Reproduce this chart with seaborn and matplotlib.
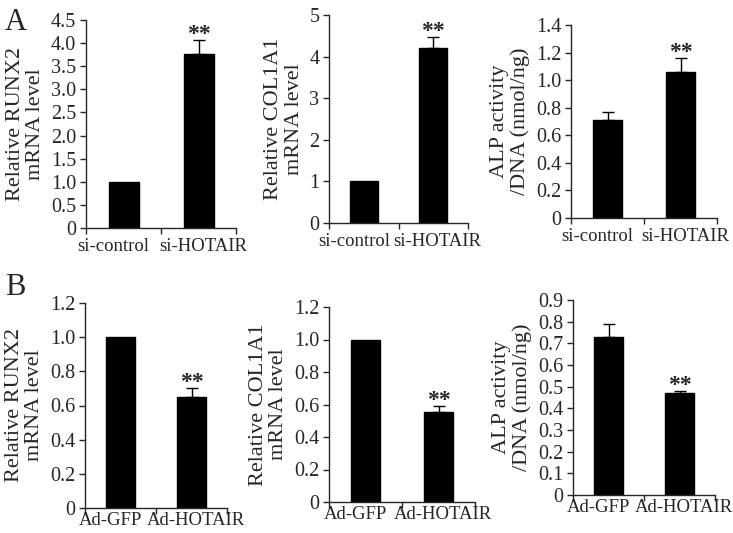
import numpy as np
import pandas as pd
import matplotlib
matplotlib.use("Agg")
import matplotlib.pyplot as plt
import seaborn as sns

# ---- data ----
groups_a = ["si-control", "si-HOTAIR"]
groups_b = ["Ad-GFP", "Ad-HOTAIR"]

runx2_a = [1.0, 3.76]
runx2_a_err = [0.0, 0.30]
col1a1_a = [1.0, 4.21]
col1a1_a_err = [0.0, 0.27]
alp_a = [0.71, 1.06]
alp_a_err = [0.06, 0.10]

runx2_b = [1.0, 0.65]
runx2_b_err = [0.0, 0.055]
col1a1_b = [1.0, 0.555]
col1a1_b_err = [0.0, 0.035]
alp_b = [0.73, 0.47]
alp_b_err = [0.06, 0.012]

ylabels = ["Relative RUNX2\nmRNA level", "Relative COL1A1\nmRNA level", "ALP activity\n/DNA (nmol/ng)"]

ylims_a = [(0, 4.5, 0.5, "{:.1f}"), (0, 5, 1, "{:.0f}"), (0, 1.4, 0.2, "{:.1f}")]
ylims_b = [(0, 1.2, 0.2, "{:.1f}"), (0, 1.2, 0.2, "{:.1f}"), (0, 0.9, 0.1, "{:.1f}")]

sns.set_style("ticks")
plt.rcParams["font.family"] = ["Liberation Serif", "DejaVu Serif"]
plt.rcParams["axes.linewidth"] = 1.0

fig = plt.figure(figsize=(7.33, 5.33), dpi=100)

W, H = 733, 533
def box(l, r, t, b):
    return [l / W, 1 - b / H, (r - l) / W, (b - t) / H]

positions = [
    box(86, 236, 20, 228), box(329, 468, 15, 223), box(571, 717, 25, 218),
    box(85, 227, 303, 508), box(329, 475, 307, 502), box(573, 715, 300, 495),
]

panels = [
    (groups_a, runx2_a, runx2_a_err, ylims_a[0], ylabels[0], [False, True]),
    (groups_a, col1a1_a, col1a1_a_err, ylims_a[1], ylabels[1], [False, True]),
    (groups_a, alp_a, alp_a_err, ylims_a[2], ylabels[2], [False, True]),
    (groups_b, runx2_b, runx2_b_err, ylims_b[0], ylabels[0], [False, True]),
    (groups_b, col1a1_b, col1a1_b_err, ylims_b[1], ylabels[1], [False, True]),
    (groups_b, alp_b, alp_b_err, ylims_b[2], ylabels[2], [False, True]),
]

for k, (pos, (groups, vals, errs, (ymin, ymax, step, fmt), ylab, stars)) in enumerate(zip(positions, panels)):
    ax = fig.add_axes(pos)
    df = pd.DataFrame({"group": groups, "value": vals})
    sns.barplot(data=df, x="group", y="value", color="black", width=0.4,
                errorbar=None, ax=ax, saturation=1, edgecolor="black")
    idx = [i for i, e in enumerate(errs) if e > 0]
    if idx:
        ax.errorbar([i for i in idx], [vals[i] for i in idx],
                    yerr=[[0 for _ in idx], [errs[i] for i in idx]],
                    fmt="none", ecolor="black", elinewidth=1.0, capsize=4, capthick=1.0)
    for i, s in enumerate(stars):
        if s:
            ax.annotate("**", (i, vals[i] + errs[i]), xytext=(0, 0), textcoords="offset points",
                        ha="center", va="baseline", fontsize=17, fontweight="bold")
    ax.set_xlim(-0.5, 1.5)
    ax.set_ylim(ymin, ymax)
    ticks = np.round(np.arange(ymin, ymax + step / 2, step), 3)
    ax.set_yticks(ticks)
    ax.set_yticklabels(["0" if t == 0 else fmt.format(t) for t in ticks])
    # category labels sit slightly outward from bar centres
    ax.set_xticks([-0.14, 1.06])
    ax.set_xticklabels(groups)
    ax.set_xticks([-0.5, 0.5, 1.5], minor=True)
    ax.tick_params(axis="x", which="major", length=0, pad=(7 if k < 3 else 3), labelsize=13.5)
    ax.tick_params(axis="x", which="minor", length=4, width=1, direction="out")
    ax.tick_params(axis="y", length=4, width=1, direction="out", labelsize=14.5, pad=3)
    ax.set_xlabel("")
    ax.set_ylabel(ylab, fontsize=16, linespacing=1.1, labelpad=4)
    sns.despine(ax=ax)

fig.text(5 / W, 1 - 30 / H, "A", fontsize=22)
fig.text(5 / W, 1 - 295 / H, "B", fontsize=22)

fig.savefig("out.png", dpi=100, facecolor="white")
